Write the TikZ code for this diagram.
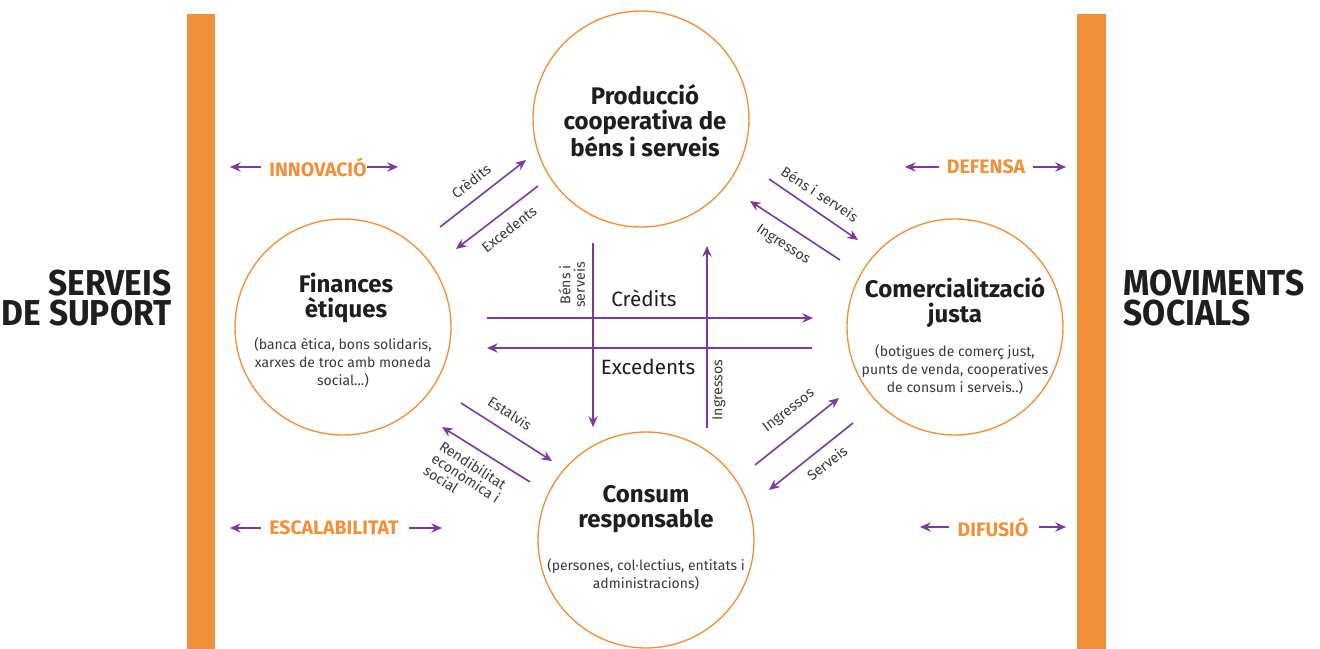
\documentclass[tikz,border=0pt]{standalone}
\usepackage{fontspec}
\setmainfont{Fira Sans}
\usetikzlibrary{arrows.meta}
\definecolor{orng}{HTML}{F0913A}
\definecolor{purp}{HTML}{7B3A9E}
\definecolor{ink}{HTML}{1E1E1E}
\definecolor{greytext}{HTML}{3A3A3A}
\begin{document}
\begin{tikzpicture}[x=0.75pt,y=-0.75pt,
 flow/.style={purp, line width=1.2pt, -{Stealth[length=8pt,width=7pt]}},
 circ/.style={circle, draw=orng, line width=1pt, minimum size=162pt, inner sep=0pt},
 title/.style={font=\bfseries\fontsize{18}{18.8}\selectfont, text=ink, align=center},
 sub/.style={font=\fontsize{10.5}{13.5}\selectfont, text=greytext, align=center},
 lab/.style={font=\fontsize{10.7}{11}\selectfont, text=greytext, inner sep=1pt},
 midlab/.style={font=\fontsize{15.5}{17}\selectfont, text=ink},
 big/.style={font=\addfontfeatures{FakeStretch=0.93}\bfseries\fontsize{27}{22.5}\selectfont, text=ink},
 olab/.style={font=\bfseries\fontsize{14.6}{16}\selectfont, text=orng, inner sep=0pt},
 bar/.style={fill=orng, draw=none}
]
\useasboundingbox (0,0) rectangle (1320,649);
\fill[white] (0,0) rectangle (1320,649);

% side bars
\fill[bar] (187,14) rectangle (215,649);
\fill[bar] (1077,14) rectangle (1106,649);

% side titles
\node[big, align=right, anchor=east] (suport) at (176,298) {SERVEIS\\DE SUPORT};
\node[big, align=left, anchor=west] (moviments) at (1119,298) {MOVIMENTS\\SOCIALS};

% circles
\node[circ] (prod) at (641,119) {};
\node[circ] (fin) at (343,327) {};
\node[circ] (com) at (955,327) {};
\node[circ] (cons) at (646,540) {};

% circle texts
\node[title] (prodt) at (645,121) {Producció\\cooperativa de\\béns i serveis};
\node[title] (fint) at (346,298) {Finances\\ètiques};
\node[sub] (fins) at (343,363) {(banca ètica, bons solidaris,\\xarxes de troc amb moneda\\social...)};
\node[title] (comt) at (955,303) {Comercialització\\justa};
\node[sub] (coms) at (955,370) {(botigues de comerç just,\\punts de venda, cooperatives\\de consum i serveis..)};
\node[title] (const) at (646,509) {Consum\\responsable};
\node[sub] (conss) at (646,575) {(persones, col·lectius, entitats i\\administracions)};

% orange labels
\node[olab] (innov) at (318,167) {INNOVACIÓ};
\node[olab] (esc) at (334,528) {ESCALABILITAT};
\node[olab] (def) at (986,167) {DEFENSA};
\node[olab] (dif) at (993,527) {DIFUSIÓ};

\coordinate (i1) at (230,167); \coordinate (i2) at (398,167);
\coordinate (e1) at (230,528); \coordinate (e2) at (442,528);
\coordinate (d1) at (905,167); \coordinate (d2) at (1066,167);
\coordinate (f1) at (920,527); \coordinate (f2) at (1066,527);
\draw[flow] (innov.west) ++(-8,0) -- (i1);
\draw[flow] (innov.east) -- (i2);
\draw[flow] (esc.west) ++(-8,0) -- (e1);
\draw[flow] (esc.east) ++(10,0) -- (e2);
\draw[flow] (def.west) ++(-8,0) -- (d1);
\draw[flow] (def.east) ++(8,0) -- (d2);
\draw[flow] (dif.west) ++(-8,0) -- (f1);
\draw[flow] (dif.east) ++(10,0) -- (f2);

% top-left pair
\coordinate (a1) at (440,227); \coordinate (a2) at (526,160);
\coordinate (b1) at (538,186); \coordinate (b2) at (456,249);
\draw[flow] (a1) -- (a2);
\draw[flow] (b1) -- (b2);
\node[lab, rotate=38] (l1) at (471,181) {Crèdits};
\node[lab, rotate=38] (l2) at (509,229) {Excedents};

% top-right pair
\coordinate (c1) at (769,179); \coordinate (c2) at (858,240);
\coordinate (d3) at (840,260); \coordinate (d4) at (750,201);
\draw[flow] (c1) -- (c2);
\draw[flow] (d3) -- (d4);
\node[lab, rotate=-33] (l3) at (820,194) {Béns i serveis};
\node[lab, rotate=-33] (l4) at (783,245) {Ingressos};

% bottom-left pair
\coordinate (g1) at (461,403); \coordinate (g2) at (552,461);
\coordinate (h1) at (530,482); \coordinate (h2) at (442,427);
\draw[flow] (g1) -- (g2);
\draw[flow] (h1) -- (h2);
\node[lab, rotate=-33] (l5) at (510,413) {Estalvis};
\node[lab, rotate=-33, align=left] (l6) at (466,478) {Rendibilitat\\econòmica i\\social};

% bottom-right pair
\coordinate (k1) at (755,465); \coordinate (k2) at (839,398);
\coordinate (m1) at (853,423); \coordinate (m2) at (769,490);
\draw[flow] (k1) -- (k2);
\draw[flow] (m1) -- (m2);
\node[lab, rotate=38] (l7) at (789,411) {Ingressos};
\node[lab, rotate=38] (l8) at (827,463) {Serveis};

% central cross
\coordinate (h3) at (487,318); \coordinate (h4) at (813,318);
\coordinate (h5) at (812,348); \coordinate (h6) at (487,348);
\coordinate (v1) at (593,243); \coordinate (v2) at (593,427);
\coordinate (v3) at (707,428); \coordinate (v4) at (707,246);
\draw[flow] (h3) -- (h4);
\draw[flow] (h5) -- (h6);
\draw[flow] (v1) -- (v2);
\draw[flow] (v3) -- (v4);
\node[midlab] (cr) at (644,298) {Crèdits};
\node[midlab] (ex) at (648,367) {Excedents};
\node[lab, rotate=90, align=center] (bs) at (572,285) {Béns i\\serveis};
\node[lab, rotate=90] (ing) at (719,390) {Ingressos};
\end{tikzpicture}
\end{document}
